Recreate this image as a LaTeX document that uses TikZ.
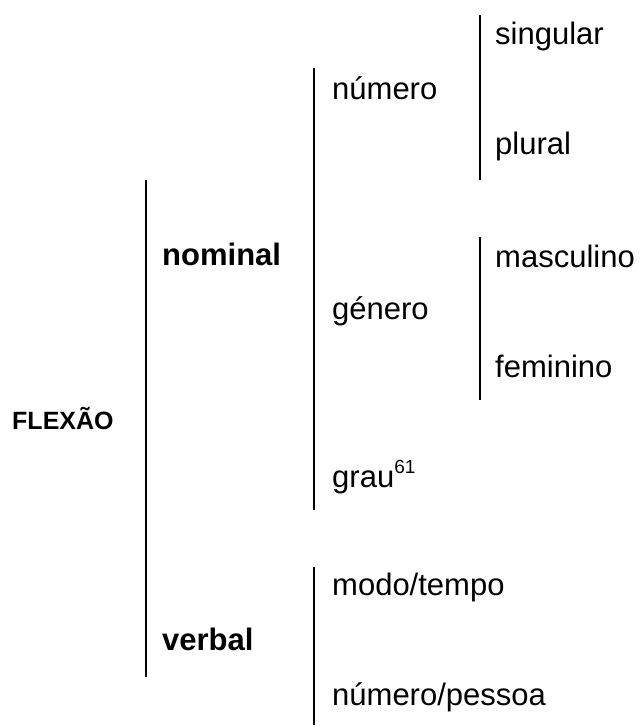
\documentclass[tikz,border=0pt]{standalone}
\usepackage{fontspec}
\setmainfont{Liberation Sans}
\begin{document}
\begin{tikzpicture}[x=1pt,y=-1pt,
  lbl/.style={anchor=base west,inner sep=0pt,font=\fontsize{31}{36}\selectfont},
  blbl/.style={lbl,font=\fontsize{31}{36}\selectfont\bfseries},
  root/.style={anchor=base west,inner sep=0pt,font=\fontsize{25}{30}\selectfont\bfseries},
  bar/.style={line width=2pt}]
\useasboundingbox (0,0) rectangle (640,727);
\node[root] (flexao) at (12,429) {FLEXÃO};
\node[blbl] (nominal) at (162,265) {nominal};
\node[blbl] (verbal) at (162,650) {verbal};
\node[lbl] (numero) at (332,100) {número};
\node[lbl] (genero) at (332,319) {género};
\node[lbl] (grau) at (332,487) {grau\raisebox{14pt}{\fontsize{19}{22}\selectfont 61}};
\node[lbl] (modo) at (332,595) {modo/tempo};
\node[lbl] (numpes) at (332,705) {número/pessoa};
\node[lbl] (singular) at (495,45) {singular};
\node[lbl] (plural) at (495,155) {plural};
\node[lbl] (masc) at (495,267) {masculino};
\node[lbl] (fem) at (495,377) {feminino};
\coordinate (b1t) at (146,180); \coordinate (b1b) at (146,677);
\coordinate (b2t) at (314,68);  \coordinate (b2b) at (314,510);
\coordinate (b3t) at (480,15);  \coordinate (b3b) at (480,180);
\coordinate (b4t) at (480,237); \coordinate (b4b) at (480,400);
\coordinate (b5t) at (314,567); \coordinate (b5b) at (314,725);
\draw[bar] (b1t) -- (b1b);
\draw[bar] (b2t) -- (b2b);
\draw[bar] (b3t) -- (b3b);
\draw[bar] (b4t) -- (b4b);
\draw[bar] (b5t) -- (b5b);
\end{tikzpicture}
\end{document}
